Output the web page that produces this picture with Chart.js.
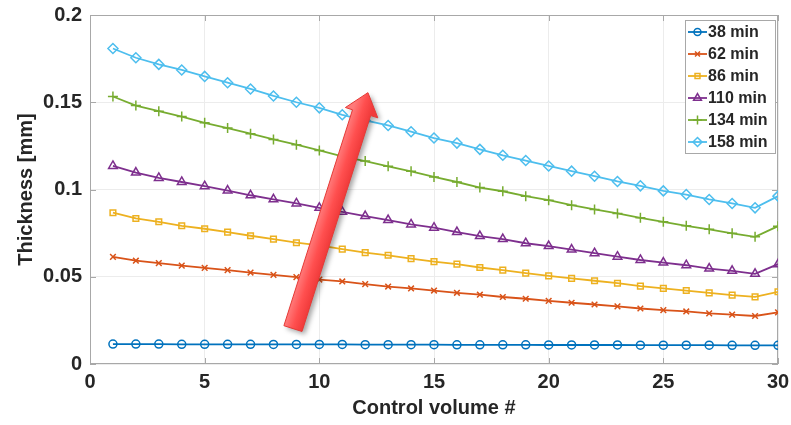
<!DOCTYPE html>
<html lang="en">
<head>
    <meta charset="UTF-8">
    <title>Thickness per control volume</title>
    <script src="https://cdn.jsdelivr.net/npm/chart.js"></script>
    <style>
        body {
            margin: 0;
            background: #ffffff;
        }
        canvas {
            display: block;
        }
    </style>
</head>
<body>
    <canvas id="thicknessChart" width="791" height="425"></canvas>

    <script>
        // Control volume index along the wall
        const controlVolumes = [1, 2, 3, 4, 5, 6, 7, 8, 9, 10, 11, 12, 13, 14, 15,
                                16, 17, 18, 19, 20, 21, 22, 23, 24, 25, 26, 27, 28, 29, 30];

        // Layer thickness [mm] at each control volume, one array per time
        const t38 = [0.0114, 0.0114, 0.0114, 0.0113, 0.0113, 0.0113, 0.0113, 0.0112, 0.0112, 0.0112,
                     0.0112, 0.0111, 0.0111, 0.0111, 0.0111, 0.0110, 0.0110, 0.0110, 0.0110, 0.0109,
                     0.0109, 0.0109, 0.0109, 0.0108, 0.0108, 0.0108, 0.0108, 0.0107, 0.0107, 0.0107];
        const t62 = [0.0614, 0.0592, 0.0578, 0.0564, 0.0551, 0.0538, 0.0524, 0.0511, 0.0498, 0.0484,
                     0.0473, 0.0458, 0.0444, 0.0433, 0.0421, 0.0408, 0.0397, 0.0384, 0.0374, 0.0362,
                     0.0351, 0.0341, 0.0330, 0.0318, 0.0309, 0.0301, 0.0290, 0.0283, 0.0275, 0.0296];
        const t86 = [0.0867, 0.0834, 0.0815, 0.0792, 0.0775, 0.0756, 0.0735, 0.0716, 0.0695, 0.0680,
                     0.0658, 0.0638, 0.0623, 0.0604, 0.0587, 0.0572, 0.0553, 0.0538, 0.0521, 0.0505,
                     0.0491, 0.0477, 0.0463, 0.0446, 0.0433, 0.0421, 0.0408, 0.0395, 0.0385, 0.0414];
        const t110 = [0.1135, 0.1097, 0.1066, 0.1043, 0.1019, 0.0994, 0.0967, 0.0944, 0.0920, 0.0895,
                      0.0872, 0.0848, 0.0825, 0.0800, 0.0781, 0.0756, 0.0733, 0.0716, 0.0692, 0.0676,
                      0.0656, 0.0635, 0.0615, 0.0596, 0.0581, 0.0566, 0.0547, 0.0534, 0.0517, 0.0572];
        const t134 = [0.1533, 0.1481, 0.1449, 0.1418, 0.1382, 0.1352, 0.1320, 0.1287, 0.1257, 0.1224,
                      0.1190, 0.1163, 0.1133, 0.1104, 0.1072, 0.1043, 0.1011, 0.0990, 0.0962, 0.0939,
                      0.0910, 0.0886, 0.0863, 0.0838, 0.0815, 0.0792, 0.0772, 0.0749, 0.0729, 0.0790];
        const t158 = [0.1808, 0.1755, 0.1717, 0.1685, 0.1648, 0.1612, 0.1576, 0.1536, 0.1500, 0.1468,
                      0.1428, 0.1396, 0.1367, 0.1331, 0.1295, 0.1266, 0.1230, 0.1196, 0.1166, 0.1135,
                      0.1105, 0.1076, 0.1046, 0.1021, 0.0992, 0.0971, 0.0943, 0.0920, 0.0895, 0.0962];

        const seriesLabels = ['38 min', '62 min', '86 min', '110 min', '134 min', '158 min'];
        const seriesValues = [t38, t62, t86, t110, t134, t158];
        const seriesColors = ['#0072BD', '#D95319', '#EDB120', '#7E2F8E', '#77AC30', '#4DBEEE'];
        const seriesMarkers = ['circle', 'crossRot', 'rect', 'triangle', 'cross', 'rectRot'];
        const markerSizes = [4, 4, 4, 5, 5, 5];

        const xTicks = [0, 5, 10, 15, 20, 25, 30];
        const yTicks = [0, 0.05, 0.1, 0.15, 0.2];

        // Growth direction arrow, tail -> tip in data units
        const arrowTail = { x: 8.85, y: 0.0203 };
        const arrowTip = { x: 12.12, y: 0.1555 };

        const textColor = '#262626';
        const axisColor = '#a8a8a8';
        const fontFamily = 'Arial, "Liberation Sans", Helvetica, sans-serif';

        const datasets = seriesValues.map((vals, i) => ({
            label: seriesLabels[i],
            data: vals.map((v, k) => ({ x: controlVolumes[k], y: v })),
            borderColor: seriesColors[i],
            backgroundColor: 'rgba(255,255,255,0)',
            borderWidth: 1.8,
            pointStyle: seriesMarkers[i],
            pointRadius: markerSizes[i],
            pointBorderWidth: 1.5,
            pointBorderColor: seriesColors[i],
            pointBackgroundColor: 'rgba(255,255,255,0)',
            tension: 0,
            fill: false
        }));

        // box around the axes with small inward ticks
        const boxPlugin = {
            id: 'boxPlugin',
            beforeDatasetsDraw(chart) {
                const { ctx, chartArea: a, scales } = chart;
                ctx.save();
                ctx.strokeStyle = axisColor;
                ctx.lineWidth = 1;
                ctx.strokeRect(a.left + 0.5, a.top + 0.5, a.right - a.left - 1, a.bottom - a.top - 1);
                ctx.beginPath();
                xTicks.forEach(t => {
                    const px = Math.round(scales.x.getPixelForValue(t)) + 0.5;
                    ctx.moveTo(px, a.bottom); ctx.lineTo(px, a.bottom - 6);
                    ctx.moveTo(px, a.top); ctx.lineTo(px, a.top + 6);
                });
                yTicks.forEach(t => {
                    const py = Math.round(scales.y.getPixelForValue(t)) + 0.5;
                    ctx.moveTo(a.left, py); ctx.lineTo(a.left + 6, py);
                    ctx.moveTo(a.right, py); ctx.lineTo(a.right - 6, py);
                });
                ctx.stroke();
                ctx.restore();
            }
        };

        // big red arrow across the curves
        const arrowPlugin = {
            id: 'arrowPlugin',
            afterDatasetsDraw(chart) {
                const { ctx, scales } = chart;
                const x0 = scales.x.getPixelForValue(arrowTail.x);
                const y0 = scales.y.getPixelForValue(arrowTail.y);
                const x1 = scales.x.getPixelForValue(arrowTip.x);
                const y1 = scales.y.getPixelForValue(arrowTip.y);
                const len = Math.hypot(x1 - x0, y1 - y0);
                const ux = (x1 - x0) / len, uy = (y1 - y0) / len;
                const nx = -uy, ny = ux;
                const shaft = 9.5, head = 17, headLen = 21;
                const bx = x1 - ux * headLen, by = y1 - uy * headLen;

                ctx.save();
                ctx.beginPath();
                ctx.moveTo(x0 + nx * shaft, y0 + ny * shaft);
                ctx.lineTo(bx + nx * shaft, by + ny * shaft);
                ctx.lineTo(bx + nx * head, by + ny * head);
                ctx.lineTo(x1, y1);
                ctx.lineTo(bx - nx * head, by - ny * head);
                ctx.lineTo(bx - nx * shaft, by - ny * shaft);
                ctx.lineTo(x0 - nx * shaft, y0 - ny * shaft);
                ctx.closePath();

                const grad = ctx.createLinearGradient(x0 - nx * shaft, y0 - ny * shaft, x0 + nx * shaft, y0 + ny * shaft);
                grad.addColorStop(0, '#ff7a7a');
                grad.addColorStop(0.5, '#ff4f4f');
                grad.addColorStop(1, '#f03a3a');
                ctx.shadowColor = 'rgba(0,0,0,0.35)';
                ctx.shadowBlur = 5;
                ctx.shadowOffsetX = 3;
                ctx.shadowOffsetY = 3;
                ctx.fillStyle = grad;
                ctx.fill();
                ctx.shadowColor = 'rgba(0,0,0,0)';
                ctx.strokeStyle = '#e53935';
                ctx.lineWidth = 1;
                ctx.stroke();
                ctx.restore();
            }
        };

        // legend box in the upper right corner of the axes
        const legendPlugin = {
            id: 'legendPlugin',
            afterDraw(chart) {
                const { ctx, chartArea: a } = chart;
                const w = 90, rowH = 22;
                const left = a.right - w - 3, top = a.top + 5;
                const h = rowH * chart.data.datasets.length + 1;
                ctx.save();
                ctx.fillStyle = '#ffffff';
                ctx.fillRect(left, top, w, h);
                ctx.strokeStyle = axisColor;
                ctx.lineWidth = 1;
                ctx.strokeRect(left + 0.5, top + 0.5, w, h);
                ctx.font = 'bold 16px ' + fontFamily;
                ctx.textBaseline = 'middle';
                ctx.textAlign = 'left';
                chart.data.datasets.forEach((ds, i) => {
                    const cy = top + 12 + i * rowH;
                    ctx.strokeStyle = ds.borderColor;
                    ctx.lineWidth = 1.8;
                    ctx.beginPath();
                    ctx.moveTo(left + 3, cy);
                    ctx.lineTo(left + 22, cy);
                    ctx.stroke();
                    ctx.fillStyle = 'rgba(255,255,255,0)';
                    ctx.lineWidth = 1.5;
                    Chart.helpers.drawPoint(ctx, {
                        pointStyle: ds.pointStyle,
                        radius: ds.pointRadius - 0.5,
                        borderWidth: 1.5,
                        rotation: 0
                    }, left + 12.5, cy);
                    ctx.fillStyle = textColor;
                    ctx.fillText(ds.label, left + 23, cy + 1);
                });
                ctx.restore();
            }
        };

        const ctx = document.getElementById('thicknessChart').getContext('2d');
        new Chart(ctx, {
            type: 'line',
            data: { datasets: datasets },
            options: {
                responsive: false,
                animation: false,
                layout: { padding: { top: 15, right: 13, left: 0, bottom: 0 } },
                plugins: {
                    legend: { display: false },
                    tooltip: { enabled: false }
                },
                scales: {
                    x: {
                        type: 'linear',
                        min: 0,
                        max: 30,
                        afterBuildTicks: scale => { scale.ticks = xTicks.map(v => ({ value: v })); },
                        afterFit: scale => {
                            scale.height = 61;
                            scale.paddingLeft = 0;
                            scale.paddingRight = 0;
                        },
                        ticks: {
                            color: textColor,
                            padding: 6,
                            maxRotation: 0,
                            font: { family: fontFamily, size: 20, weight: 'bold' }
                        },
                        grid: { color: '#ececec', drawTicks: false },
                        border: { display: false },
                        title: {
                            display: true,
                            text: 'Control volume #',
                            color: textColor,
                            padding: { top: 0, bottom: 5 },
                            font: { family: fontFamily, size: 20, weight: 'bold' }
                        }
                    },
                    y: {
                        min: 0,
                        max: 0.2,
                        afterBuildTicks: scale => { scale.ticks = yTicks.map(v => ({ value: v })); },
                        afterFit: scale => {
                            scale.width = 90;
                            scale.paddingTop = 0;
                            scale.paddingBottom = 0;
                        },
                        ticks: {
                            color: textColor,
                            padding: 8,
                            callback: v => String(Math.round(v * 100) / 100),
                            font: { family: fontFamily, size: 20, weight: 'bold' }
                        },
                        grid: { color: '#ececec', drawTicks: false },
                        border: { display: false },
                        title: {
                            display: true,
                            text: 'Thickness [mm]',
                            color: textColor,
                            padding: { top: 14, bottom: 0 },
                            font: { family: fontFamily, size: 20, weight: 'bold' }
                        }
                    }
                }
            },
            plugins: [boxPlugin, arrowPlugin, legendPlugin]
        });
    </script>
</body>
</html>
